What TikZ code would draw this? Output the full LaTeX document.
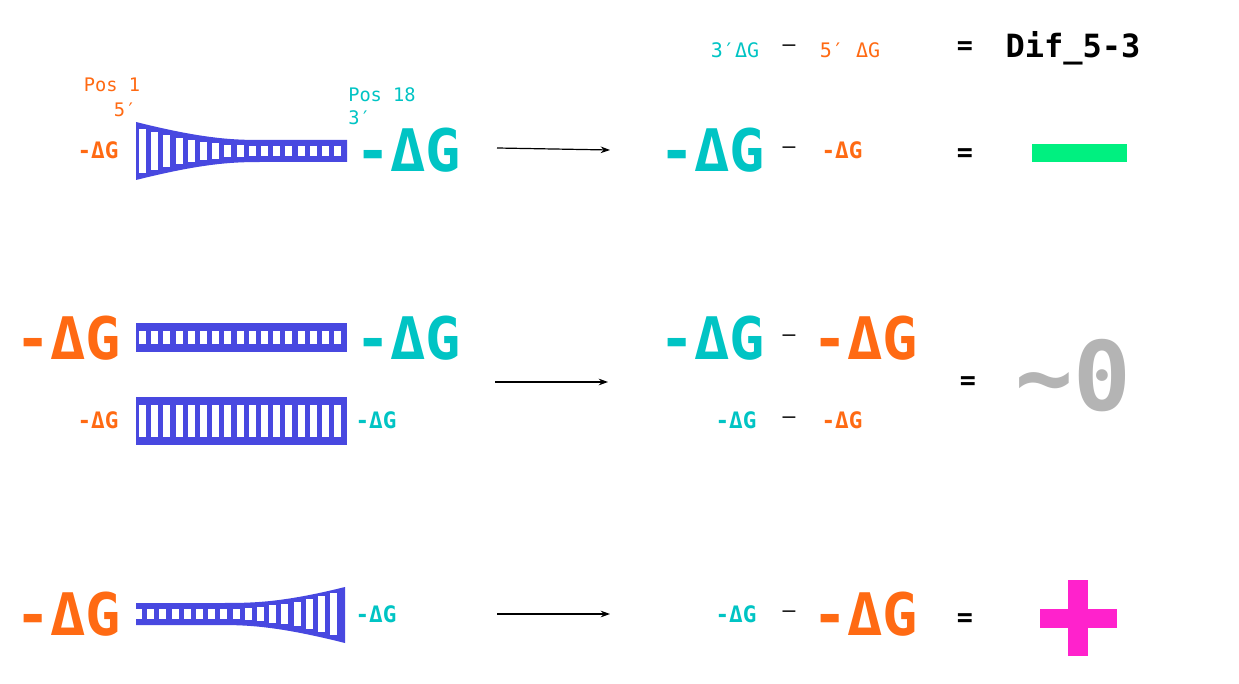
\documentclass[tikz,border=0pt]{standalone}
\usepackage{fontspec}
\setmainfont{DejaVu Sans Mono}
\usetikzlibrary{arrows.meta}
\definecolor{org}{HTML}{FF6A13}
\definecolor{cyn}{HTML}{00C4C4}
\definecolor{dna}{HTML}{4848E0}
\definecolor{grn}{HTML}{00F080}
\definecolor{mag}{HTML}{FF22CC}
\definecolor{gry}{HTML}{B4B4B4}
\tikzset{
 big/.style={font=\fontsize{44}{44}\selectfont\bfseries, inner sep=0pt},
 sml/.style={font=\fontsize{17}{17}\selectfont\bfseries, inner sep=0pt},
 lbl/.style={font=\fontsize{14}{16}\selectfont, inner sep=0pt},
 eq/.style={font=\fontsize{20}{20}\selectfont\bfseries, inner sep=0pt},
 arr/.style={-{Stealth[length=7pt,width=5pt]}, line width=0.9pt},
}
\begin{document}
\begin{tikzpicture}[x=0.75pt,y=-0.75pt]
\useasboundingbox[fill=white] (0,0) rectangle (1239,684);
% ---- tapered ladder top (wide left)
\fill[dna] (136,122) .. controls (200,138) and (230,140) .. (260,140) -- (347,140) -- (347,162) -- (260,162) .. controls (230,162) and (200,164) .. (136,180) -- cycle;
\foreach \i in {0,...,16}{
  \pgfmathsetmacro\xa{139+\i*12.2}
  \pgfmathsetmacro\t{max(0,(260-\xa)/124)}
  \pgfmathsetmacro\h{5+18*\t*\t}
  \fill[white] (\xa,151-\h) rectangle (\xa+7,151+\h);
}
% ---- tapered ladder bottom (wide right)
\fill[dna] (345,587) .. controls (281,603) and (251,603) .. (221,603) -- (136,603) -- (136,625) -- (221,625) .. controls (251,625) and (281,627) .. (345,643) -- cycle;
\foreach \i in {0,...,16}{
  \pgfmathsetmacro\xa{135+\i*12.2}
  \pgfmathsetmacro\t{max(0,(\xa+7-221)/124)}
  \pgfmathsetmacro\h{5+18*\t*\t}
  \fill[white] (\xa,614-\h) rectangle (\xa+7,614+\h);
}
% ---- straight ladders
\fill[dna] (136,323) rectangle (347,352);
\fill[dna] (136,397) rectangle (347,445);
\foreach \i in {0,...,16}{
  \pgfmathsetmacro\xa{139+\i*12.2}
  \fill[white] (\xa,331) rectangle (\xa+7,344);
  \fill[white] (\xa,405) rectangle (\xa+7,437);
}
% ---- header
\node[sml,cyn,font=\fontsize{15}{15}\selectfont] (h1) at (735,50) {3′ΔG};
\node[eq,font=\fontsize{16}{16}\selectfont] (h2) at (789,48) {—};
\node[sml,org,font=\fontsize{15}{15}\selectfont] (h3) at (850,50) {5′ ΔG};
\node[eq] (h4) at (965,48) {=};
\node[font=\fontsize{24}{24}\selectfont\bfseries,inner sep=0pt] (h5) at (1073,48) {Dif\_5-3};
% ---- row 1
\node[lbl,org] (p1) at (112,85) {Pos 1};
\node[lbl,org] (p5) at (125,110) {5′};
\node[lbl,cyn,anchor=west] (p18) at (348,95) {Pos 18};
\node[lbl,cyn,anchor=west] (p3) at (348,118) {3′};
\node[sml,org] (a1) at (98,150) {-ΔG};
\node[big,cyn] (a2) at (408,150) {-ΔG};
\coordinate (s1) at (497,148); \coordinate (e1) at (610,150);
\draw[arr] (s1) -- (e1);
\node[big,cyn] (a3) at (712,150) {-ΔG};
\node[eq,font=\fontsize{16}{16}\selectfont] (a4) at (789,150) {–};
\node[sml,org] (a5) at (842,150) {-ΔG};
\node[eq] (a6) at (965,155) {=};
\fill[grn] (1032,144) rectangle (1127,162);
% ---- row 2
\node[big,org] (b1) at (68,338) {-ΔG};
\node[big,cyn] (b2) at (408,338) {-ΔG};
\node[sml,org] (b3) at (98,420) {-ΔG};
\node[sml,cyn] (b4) at (376,420) {-ΔG};
\coordinate (s2) at (495,382); \coordinate (e2) at (608,382);
\draw[arr] (s2) -- (e2);
\node[big,cyn] (b5) at (712,338) {-ΔG};
\node[eq,font=\fontsize{16}{16}\selectfont] (b6) at (789,338) {–};
\node[big,org] (b7) at (865,338) {-ΔG};
\node[sml,cyn] (b8) at (736,420) {-ΔG};
\node[eq,font=\fontsize{16}{16}\selectfont] (b9) at (789,420) {—};
\node[sml,org] (b10) at (842,420) {-ΔG};
\node[eq] (b11) at (968,383) {=};
\node[font=\fontsize{72}{72}\selectfont\bfseries,gry,inner sep=0pt] (b12) at (1073,376) {\char`\~0};
% ---- row 3
\node[big,org] (c1) at (68,614) {-ΔG};
\node[sml,cyn] (c2) at (376,614) {-ΔG};
\coordinate (s3) at (497,614); \coordinate (e3) at (610,614);
\draw[arr] (s3) -- (e3);
\node[sml,cyn] (c3) at (736,614) {-ΔG};
\node[eq,font=\fontsize{16}{16}\selectfont] (c4) at (789,614) {–};
\node[big,org] (c5) at (865,614) {-ΔG};
\node[eq] (c6) at (965,620) {=};
\fill[mag] (1040,609) rectangle (1117,628);
\fill[mag] (1068,580) rectangle (1088,656);
\end{tikzpicture}
\end{document}
